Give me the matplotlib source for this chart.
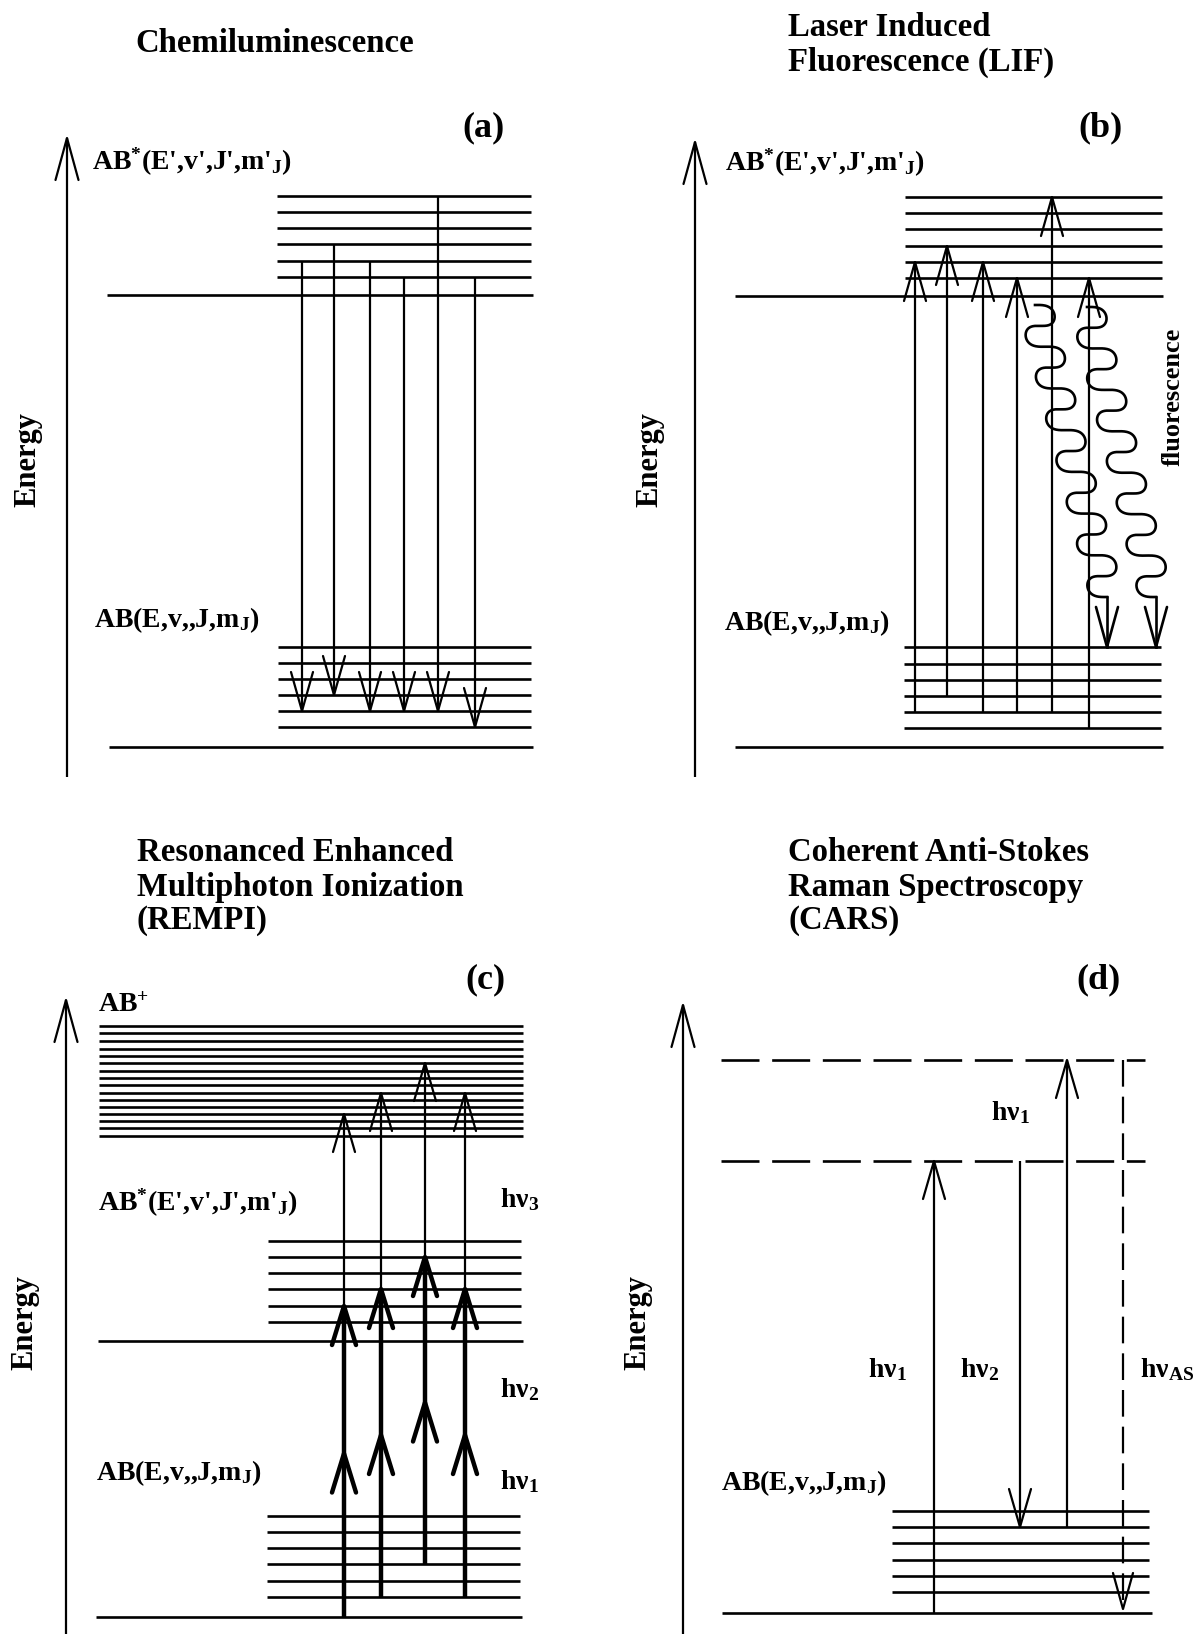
import numpy as np
import matplotlib
matplotlib.use("Agg")
import matplotlib.pyplot as plt

plt.rcParams.update({
    "font.family": ["Liberation Serif", "DejaVu Serif"],
    "font.weight": "bold",
    "mathtext.fontset": "custom",
    "mathtext.rm": "Liberation Serif:bold",
    "mathtext.it": "Liberation Serif:bold",
    "mathtext.bf": "Liberation Serif:bold",
    "mathtext.default": "rm",
})

W, H = 1197, 1634

# ---------------- level energies (measured upward from each ground state) ----
# (a) Chemiluminescence
chemi_upper = [452, 470, 486, 503, 519, 535, 551]      # excited base + manifold
chemi_lower = [0, 20, 36, 52, 68, 84, 100]             # ground base + manifold
chemi_x = [302, 334, 370, 404, 438, 475]
chemi_from = [2, 3, 2, 1, 6, 1]
chemi_to = [2, 3, 2, 2, 2, 1]

# (b) Laser induced fluorescence
lif_upper = [451, 469, 485, 501, 518, 534, 550]
lif_lower = [0, 19, 35, 51, 67, 83, 100]
lif_x = [317, 349, 385, 419, 454, 491]
lif_from = [2, 3, 2, 2, 2, 1]
lif_to = [2, 3, 2, 1, 6, 1]
fluor_start = [(437, 442), (489, 440)]
fluor_end = [(509, 150), (558, 150)]
fluor_level = 6

# (c) REMPI
rempi_ion = [481, 489, 496, 503, 510, 517, 524, 532, 539, 546, 554, 561,
             568, 576, 584, 591]
rempi_mid = [276, 295, 311, 328, 344, 360, 376]
rempi_low = [0, 20, 36, 53, 69, 85, 101]
rempi_x = [344, 381, 425, 465]
rempi_from = [0, 1, 3, 1]
rempi_via = [2, 3, 5, 3]
rempi_to = [3, 6, 10, 6]

# (d) CARS
cars_virtual = [452, 553]
cars_low = [0, 21, 37, 53, 70, 86, 102]
cars_pump_x, cars_stokes_x, cars_probe_x, cars_as_x = 336, 422, 469, 525
cars_stokes_to = 5

LW_LEVEL = 1.9
LW_ARROW = 1.6
LW_THICK = 3.2

fig = plt.figure(figsize=(W / 100, H / 100), dpi=100)
fig.patch.set_facecolor("white")


def panel(x0, y0, x1, y1, ground):
    ax = fig.add_axes([x0 / W, 1 - y1 / H, (x1 - x0) / W, (y1 - y0) / H])
    ax.set_xlim(0, x1 - x0)
    ax.set_ylim(ground - y1, ground - y0)
    ax.axis("off")
    return ax


def head(ax, x, tip, direction, L=40, hw=11, lw=LW_ARROW):
    base = tip - direction * L
    ax.plot([x - hw, x, x + hw], [base, tip, base], color="k", lw=lw,
            solid_joinstyle="round", solid_capstyle="round")


def arrow(ax, x, e0, e1, lw=LW_ARROW, L=40, hw=11):
    ax.plot([x, x], [e0, e1], color="k", lw=lw, solid_capstyle="butt")
    head(ax, x, e1, np.sign(e1 - e0), L=L, hw=hw, lw=lw)


def energy_axis(ax, x, bottom, tip, ylab_x, ylab_y):
    arrow(ax, x, bottom, tip, lw=LW_ARROW, L=42, hw=11.5)
    ax.text(ylab_x, ylab_y, "Energy", rotation=90, fontsize=22,
            ha="center", va="center")


def levels(ax, values, x0, x1):
    ax.hlines(values, x0, x1, colors="k", lw=LW_LEVEL)


def photon(ax, start, end, periods=7, amp=17, curl=3.5):
    """Wavy photon path: sideways swing around a slanted centre line,
    with the crossings flattened so the turns bulge like stacked S shapes."""
    t = np.linspace(0, 1, 1500)
    th = 2 * np.pi * periods * t
    x = start[0] + (end[0] - start[0]) * t + amp * np.sin(th)
    y = start[1] + (end[1] - start[1]) * t + curl * np.sin(2 * th)
    ax.plot(x, y, color="k", lw=LW_LEVEL, solid_joinstyle="round")


FS_TITLE = 23.6
FS_LABEL = 20
FS_TAG = 26

# ---------------- (a) Chemiluminescence ----------------
ax = panel(0, 0, 598, 800, 747)
ax.text(135, 704, "Chemiluminescence", fontsize=FS_TITLE, ha="left", va="center")
ax.text(483, 619, "(a)", fontsize=FS_TAG, ha="center", va="center")
energy_axis(ax, 67, -30, 609, 28, 287)
ax.text(92, 585, "AB$^{*}$(E',v',J',m'$_{J}$)", fontsize=FS_LABEL, ha="left", va="center")
ax.text(94, 127, "AB(E,v,,J,m$_{J}$)", fontsize=FS_LABEL, ha="left", va="center")
levels(ax, chemi_upper[:1], 107, 533)
levels(ax, chemi_upper[1:], 277, 531)
levels(ax, chemi_lower[:1], 109, 533)
levels(ax, chemi_lower[1:], 278, 531)
for x, i, j in zip(chemi_x, chemi_from, chemi_to):
    arrow(ax, x, chemi_upper[i], chemi_lower[j], L=39)

# ---------------- (b) LIF ----------------
ax = panel(598, 0, 1197, 800, 747)
ax.text(190, 720, "Laser Induced", fontsize=FS_TITLE, ha="left", va="center")
ax.text(190, 685, "Fluorescence (LIF)", fontsize=FS_TITLE, ha="left", va="center")
ax.text(502, 619, "(b)", fontsize=FS_TAG, ha="center", va="center")
energy_axis(ax, 97, -30, 605, 52, 287)
ax.text(127, 584, "AB$^{*}$(E',v',J',m'$_{J}$)", fontsize=FS_LABEL, ha="left", va="center")
ax.text(126, 124, "AB(E,v,,J,m$_{J}$)", fontsize=FS_LABEL, ha="left", va="center")
levels(ax, lif_upper[:1], 137, 565)
levels(ax, lif_upper[1:], 307, 564)
levels(ax, lif_lower[:1], 137, 565)
levels(ax, lif_lower[1:], 306, 563)
for x, i, j in zip(lif_x, lif_from, lif_to):
    arrow(ax, x, lif_lower[i], lif_upper[j], L=39)
for s, e in zip(fluor_start, fluor_end):
    photon(ax, s, e)
    ax.plot([e[0], e[0]], [e[1], lif_lower[fluor_level]], color="k", lw=LW_LEVEL)
    head(ax, e[0], lif_lower[fluor_level], -1, L=40, hw=11, lw=LW_LEVEL)
ax.text(575, 350, "fluorescence", rotation=90, fontsize=19, ha="center", va="center")

# ---------------- (c) REMPI ----------------
ax = panel(0, 800, 598, 1634, 1617)
ax.text(137, 765, "Resonanced Enhanced", fontsize=FS_TITLE, ha="left", va="center")
ax.text(137, 730, "Multiphoton Ionization", fontsize=FS_TITLE, ha="left", va="center")
ax.text(137, 697, "(REMPI)", fontsize=FS_TITLE, ha="left", va="center")
ax.text(485, 637, "(c)", fontsize=FS_TAG, ha="center", va="center")
energy_axis(ax, 66, -17, 617, 25, 294)
ax.text(98, 612, "AB$^{+}$", fontsize=FS_LABEL, ha="left", va="center")
ax.text(98, 414, "AB$^{*}$(E',v',J',m'$_{J}$)", fontsize=FS_LABEL, ha="left", va="center")
ax.text(96, 144, "AB(E,v,,J,m$_{J}$)", fontsize=FS_LABEL, ha="left", va="center")
ax.text(500, 417, r"h$\nu_{3}$", fontsize=FS_LABEL, ha="left", va="center")
ax.text(500, 227, r"h$\nu_{2}$", fontsize=FS_LABEL, ha="left", va="center")
ax.text(500, 135, r"h$\nu_{1}$", fontsize=FS_LABEL, ha="left", va="center")
levels(ax, rempi_ion, 99, 523)
levels(ax, rempi_mid[:1], 98, 523)
levels(ax, rempi_mid[1:], 268, 521)
levels(ax, rempi_low[:1], 96, 522)
levels(ax, rempi_low[1:], 267, 520)
for x, i, k, j in zip(rempi_x, rempi_from, rempi_via, rempi_to):
    e0, e1, e2 = rempi_low[i], rempi_mid[k], rempi_ion[j]
    ax.plot([x, x], [e0, e1], color="k", lw=LW_THICK, solid_capstyle="butt")
    head(ax, x, (e0 + e1) / 2 + 8, 1, L=39, hw=12, lw=LW_THICK)
    head(ax, x, e1, 1, L=39, hw=12, lw=LW_THICK)
    arrow(ax, x, e1, e2, L=38, hw=11)

# ---------------- (d) CARS ----------------
ax = panel(598, 800, 1197, 1634, 1613)
ax.text(190, 761, "Coherent Anti-Stokes", fontsize=FS_TITLE, ha="left", va="center")
ax.text(190, 726, "Raman Spectroscopy", fontsize=FS_TITLE, ha="left", va="center")
ax.text(190, 693, "(CARS)", fontsize=FS_TITLE, ha="left", va="center")
ax.text(500, 633, "(d)", fontsize=FS_TAG, ha="center", va="center")
energy_axis(ax, 85, -21, 608, 40, 290)
ax.text(123, 130, "AB(E,v,,J,m$_{J}$)", fontsize=FS_LABEL, ha="left", va="center")
ax.hlines(cars_virtual, 123, 547, colors="k", lw=LW_LEVEL,
          linestyles=[(0, (14.4, 4.8))])
levels(ax, cars_low[:1], 124, 554)
levels(ax, cars_low[1:], 294, 551)
arrow(ax, cars_pump_x, cars_low[0], cars_virtual[0], L=38)
arrow(ax, cars_stokes_x, cars_virtual[0], cars_low[cars_stokes_to], L=38)
arrow(ax, cars_probe_x, cars_low[cars_stokes_to], cars_virtual[1], L=38)
ax.plot([cars_as_x, cars_as_x], [cars_virtual[1], cars_low[0] + 4], color="k",
        lw=LW_ARROW, linestyle=(0, (12, 4.5)))
head(ax, cars_as_x, cars_low[0] + 4, -1, L=36, hw=10)
ax.text(393, 500, r"h$\nu_{1}$", fontsize=FS_LABEL, ha="left", va="center")
ax.text(270, 243, r"h$\nu_{1}$", fontsize=FS_LABEL, ha="left", va="center")
ax.text(362, 243, r"h$\nu_{2}$", fontsize=FS_LABEL, ha="left", va="center")
ax.text(542, 243, r"h$\nu_{AS}$", fontsize=FS_LABEL, ha="left", va="center")

fig.savefig("out.png", dpi=100, facecolor="white")
